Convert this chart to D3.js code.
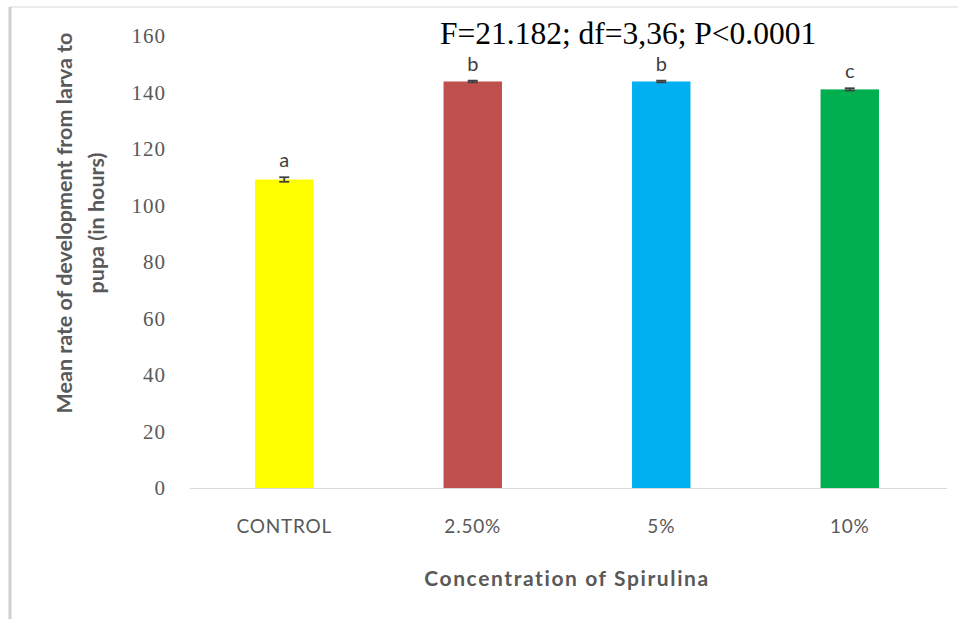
<!DOCTYPE html>
<html><head><meta charset="utf-8">
<script src="https://cdn.jsdelivr.net/npm/d3@7"></script>
<style>body{margin:0;background:#fff}svg{display:block}</style>
</head><body>
<svg id="c" width="958" height="619"></svg>
<script>
const categories = ["CONTROL", "2.50%", "5%", "10%"];
const means = [109.2, 143.9, 143.9, 141.1];
const errors = [0.8, 0.3, 0.3, 0.4];
const letters = ["a", "b", "b", "c"];
const colors = ["#FFFF00", "#C0504D", "#00B0F0", "#00B050"];
const yTicks = [0, 20, 40, 60, 80, 100, 120, 140, 160];

const svg = d3.select("#c");
// frame
svg.append("line").attr("x1",10).attr("x2",958).attr("y1",7).attr("y2",7).attr("stroke","#e6e6e6").attr("stroke-width",1.5);
svg.append("line").attr("x1",10).attr("x2",10).attr("y1",7).attr("y2",619).attr("stroke","#cfcfcf").attr("stroke-width",3);

const x = d3.scaleBand().domain(categories).range([190, 944]).paddingInner(0.69).paddingOuter(0.345);
const y = d3.scaleLinear().domain([0, 160]).range([488, 36]);

// y axis labels
const ya = svg.append("g").attr("transform","translate(166,0)")
  .call(d3.axisLeft(y).tickValues(yTicks).tickSize(0).tickPadding(0));
ya.select(".domain").remove();
ya.selectAll("text").attr("font-family","Liberation Serif").attr("font-size",21).attr("fill","#595959").attr("letter-spacing","1px");

// x axis
const xa = svg.append("g").attr("transform","translate(0,488)")
  .call(d3.axisBottom(x).tickSize(0).tickPadding(32));
xa.select(".domain").attr("stroke","#d9d9d9").attr("d","M190,0.5H947");
xa.selectAll("text").attr("font-family","Lato").attr("font-size",19).attr("fill","#595959").attr("letter-spacing","0.8px");

// bars
svg.selectAll("rect.bar").data(categories).join("rect").attr("class","bar")
  .attr("x", d => x(d)).attr("width", x.bandwidth())
  .attr("y", (d,i) => y(means[i])).attr("height", (d,i) => y(0) - y(means[i]))
  .attr("fill", (d,i) => colors[i]);

// error bars
const eb = svg.append("g").attr("stroke","#404040").attr("stroke-width",1.8);
categories.forEach((d,i) => {
  const cx = x(d) + x.bandwidth()/2;
  const y1 = y(means[i]+errors[i]), y2 = y(means[i]-errors[i]);
  eb.append("line").attr("x1",cx).attr("x2",cx).attr("y1",y1).attr("y2",y2);
  eb.append("line").attr("x1",cx-5).attr("x2",cx+5).attr("y1",y1).attr("y2",y1);
  eb.append("line").attr("x1",cx-5).attr("x2",cx+5).attr("y1",y2).attr("y2",y2);
});

// letters
svg.selectAll("text.let").data(categories).join("text").attr("class","let")
  .attr("x", d => x(d) + x.bandwidth()/2)
  .attr("y", (d,i) => y(means[i]+errors[i]) - 10)
  .attr("text-anchor","middle").attr("font-family","Lato").attr("font-size",20).attr("fill","#404040")
  .text((d,i) => letters[i]);

// axis titles
svg.append("text").attr("x",567).attr("y",586).attr("text-anchor","middle")
  .attr("font-family","Lato").attr("font-weight","bold").attr("font-size",21).attr("fill","#595959").attr("letter-spacing","1.6px")
  .text("Concentration of Spirulina");
const yt = svg.append("text").attr("transform","translate(0,223) rotate(-90)")
  .attr("text-anchor","middle").attr("font-family","Lato").attr("font-weight","bold").attr("font-size",21.5).attr("fill","#595959");
yt.append("tspan").attr("x",0).attr("y",72).text("Mean rate of development from larva to");
yt.append("tspan").attr("x",0).attr("y",104).text("pupa (in hours)");

// annotation
svg.append("text").attr("x",440).attr("y",44).attr("font-family","Liberation Serif").attr("font-size",31.5).attr("fill","#000")
  .text("F=21.182; df=3,36; P<0.0001");
</script>
</body></html>
